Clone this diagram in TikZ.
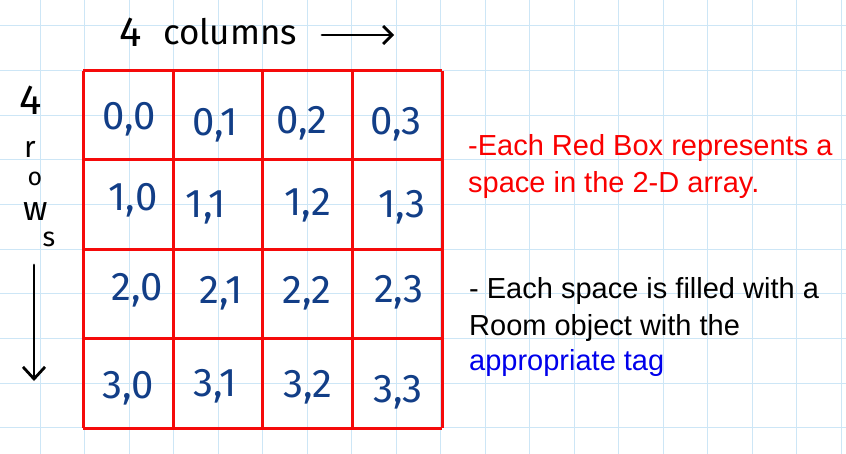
\documentclass[tikz,border=0pt]{standalone}
\usepackage{fontspec}
\setmainfont{Liberation Sans}
\newfontfamily\hand{Fira Sans}
\usetikzlibrary{arrows.meta}
\definecolor{paperline}{RGB}{205,230,246}
\definecolor{gridred}{RGB}{245,10,10}
\definecolor{inkblue}{RGB}{18,62,135}
\definecolor{txtred}{RGB}{250,0,0}
\definecolor{txtblue}{RGB}{0,0,235}
\tikzset{
  cell/.style={anchor=base, inner sep=0pt, text=inkblue, font=\hand\fontsize{40}{40}\selectfont},
  handtxt/.style={inner sep=0pt, text=black},
  note/.style={anchor=base west, inner sep=0pt, font=\fontsize{29}{34}\selectfont},
  handarrow/.style={line width=2.8pt, line cap=round, line join=round, black},
}
\begin{document}
\begin{tikzpicture}[x=1pt,y=-1pt]
\useasboundingbox (0,0) rectangle (846,454);
\fill[white] (0,0) rectangle (846,454);
% notebook paper lines
\foreach \i in {-1,...,18} {\draw[paperline, line width=1pt] ({40+44.5*\i},0) -- ({40+44.5*\i},454);}
\foreach \j in {0,...,9} {\draw[paperline, line width=1pt] (0,{25.8+44.65*\j}) -- (846,{25.8+44.65*\j});}
% red boxes
\foreach \x in {83,173,262,352,442} {\draw[gridred, line width=3pt] (\x,71) -- (\x,428);}
\foreach \y in {71,160,250,338,428} {\draw[gridred, line width=3pt] (83,\y) -- (442,\y);}
% cell labels
\node[cell] (c00) at (129,130) {0,0};
\node[cell] (c01) at (215,136) {0,1};
\node[cell] (c02) at (302,134) {0,2};
\node[cell] (c03) at (396,135) {0,3};
\node[cell] (c10) at (133,211) {1,0};
\node[cell] (c11) at (206,218) {1,1};
\node[cell] (c12) at (308,216) {1,2};
\node[cell] (c13) at (402,218) {1,3};
\node[cell] (c20) at (137,301) {2,0};
\node[cell] (c21) at (221,304) {2,1};
\node[cell] (c22) at (307,304) {2,2};
\node[cell] (c23) at (399,302) {2,3};
\node[cell] (c30) at (128,398) {3,0};
\node[cell] (c31) at (215,396) {3,1};
\node[cell] (c32) at (308,397) {3,2};
\node[cell] (c33) at (398,402) {3,3};
% top label
\node[handtxt, anchor=base, font=\hand\fontsize{42}{42}\selectfont] (top4) at (131,47) {4};
\node[handtxt, anchor=base west, font=\hand\fontsize{35}{35}\selectfont] (cols) at (163,45) {columns};
\coordinate (ra) at (322,35);
\coordinate (rb) at (394,35);
\draw[handarrow, -{Straight Barb[length=9pt,width=18pt,line width=2.8pt]}] (ra) -- (rb);
% left label
\node[handtxt, anchor=base, font=\hand\fontsize{42}{42}\selectfont] (left4) at (31,115) {4};
\node[handtxt, anchor=base, font=\hand\fontsize{30}{30}\selectfont] (lr) at (30,158) {r};
\node[handtxt, anchor=base, font=\hand\fontsize{25}{25}\selectfont] (lo) at (35,186) {o};
\node[handtxt, anchor=base, font=\hand\fontsize{34}{34}\selectfont] (lw) at (36,221) {w};
\node[handtxt, anchor=base, font=\hand\fontsize{27}{27}\selectfont] (ls) at (49,247) {s};
\coordinate (da) at (34,265);
\coordinate (db) at (34,381);
\draw[handarrow, -{Straight Barb[length=12pt,width=22pt,line width=2.8pt]}] (da) -- (db);
% notes
\node[note, text=txtred] (n1a) at (468,156) {-Each Red Box represents a};
\node[note, text=txtred] (n1b) at (468,193) {space in the 2-D array.};
\node[note, text=black] (n2a) at (469,299) {- Each space is filled with a};
\node[note, text=black] (n2b) at (469,335) {Room object with the};
\node[note, text=txtblue] (n2c) at (469,370) {appropriate tag};
\end{tikzpicture}
\end{document}
